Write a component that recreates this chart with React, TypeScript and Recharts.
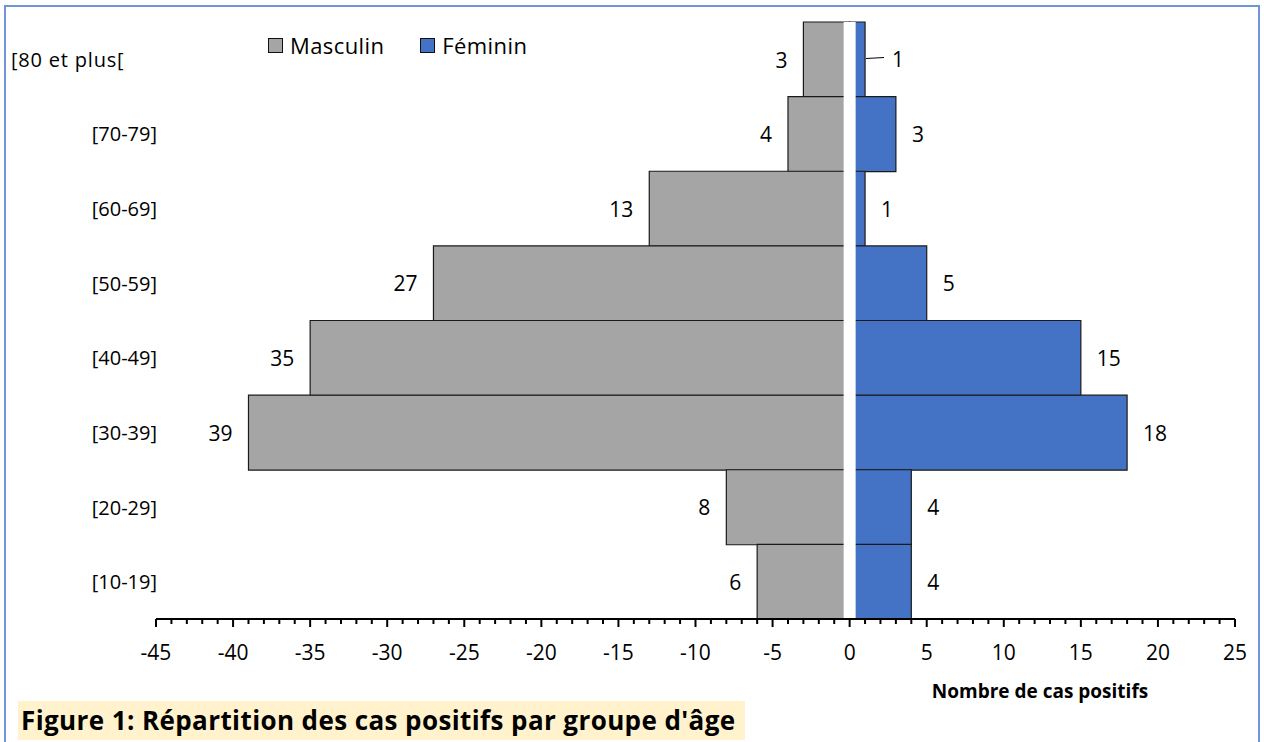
import { Bar, BarChart, ReferenceLine, XAxis, YAxis, LabelList } from "recharts";

const ageGroups = ["[80 et plus[", "[70-79]", "[60-69]", "[50-59]", "[40-49]", "[30-39]", "[20-29]", "[10-19]"];
const maleCounts = [3, 4, 13, 27, 35, 39, 8, 6];
const femaleCounts = [1, 3, 1, 5, 15, 18, 4, 4];
const majorTicks = [-45, -40, -35, -30, -25, -20, -15, -10, -5, 0, 5, 10, 15, 20, 25];
const seriesNames = ["Masculin", "Féminin"];

// minor tick marks every unit between the labelled ones
const allTicks: number[] = [];
for (let t = majorTicks[0]; t <= majorTicks[majorTicks.length - 1]; t++) allTicks.push(t);

const data = ageGroups.map((group, i) => ({
  group,
  male: -maleCounts[i],
  female: femaleCounts[i],
}));

const FONT = "'Open Sans', sans-serif";
const GREY = "#a5a5a5";
const BLUE = "#4472c4";

function XTick(props: any) {
  const { x, y, payload } = props;
  const major = payload.value % 5 === 0;
  return (
    <g>
      <line x1={x} x2={x} y1={y} y2={y + (major ? 8 : 5)} stroke="#000" strokeWidth={2} />
      {major && (
        <text x={x} y={y + 33} textAnchor="middle" dominantBaseline="central" fontSize={21} fill="#000" fontFamily={FONT}>
          {payload.value}
        </text>
      )}
    </g>
  );
}

function YTick(props: any) {
  const { x, y, payload, index } = props;
  const first = index === 0;
  return (
    <text
      x={first ? 11 : x + 1}
      y={y}
      textAnchor={first ? "start" : "end"}
      dominantBaseline="central"
      fontSize={20}
      letterSpacing={first ? 0.8 : 0}
      fill="#000"
      fontFamily={FONT}
    >
      {payload.value}
    </text>
  );
}

function MaleLabel(props: any) {
  const { x, y, width, height, value } = props;
  const left = Math.min(x, x + width);
  return (
    <text x={left - 16} y={y + height / 2} textAnchor="end" dominantBaseline="central" fontSize={21} fill="#000" fontFamily={FONT}>
      {Math.abs(value)}
    </text>
  );
}

function FemaleLabel(props: any) {
  const { x, y, width, height, value, index } = props;
  const right = Math.max(x, x + width);
  const cy = y + height / 2;
  if (index === 0) {
    return (
      <g>
        <line x1={right + 1} y1={cy - 1} x2={right + 19} y2={cy - 2} stroke="#000" strokeWidth={1} />
        <text x={right + 27} y={cy - 1} dominantBaseline="central" fontSize={21} fill="#000" fontFamily={FONT}>
          {value}
        </text>
      </g>
    );
  }
  return (
    <text x={right + 16} y={cy} dominantBaseline="central" fontSize={21} fill="#000" fontFamily={FONT}>
      {value}
    </text>
  );
}

function ChartLegend() {
  const colors = [GREY, BLUE];
  return (
    <div style={{ position: "absolute", left: 268, top: 30, display: "flex", gap: 36, fontSize: 22, letterSpacing: 0.4, color: "#000", lineHeight: "30px" }}>
      {seriesNames.map((name, i) => (
        <div key={name} style={{ display: "flex", alignItems: "center", gap: 7 }}>
          <span style={{ width: 15, height: 15, background: colors[i], border: "1.5px solid #111", boxSizing: "border-box", display: "inline-block" }} />
          <span>{name}</span>
        </div>
      ))}
    </div>
  );
}

export default function App() {
  return (
    <div style={{ position: "absolute", left: 0, top: 0, width: 1264, height: 742, background: "#fff", overflow: "hidden", fontFamily: FONT }}>
      <div style={{ position: "absolute", left: 4, top: 5, width: 1256, height: 760, border: "2px solid #6f94d8", boxSizing: "border-box" }} />
      <BarChart
        width={1264}
        height={742}
        data={data}
        layout="vertical"
        stackOffset="sign"
        barCategoryGap={0}
        margin={{ top: 22, right: 29, bottom: 83, left: 0 }}
      >
        <XAxis
          type="number"
          domain={[-45, 25]}
          ticks={allTicks}
          interval={0}
          tickSize={0}
          tickMargin={0}
          tickLine={false}
          axisLine={{ stroke: "#000", strokeWidth: 2 }}
          tick={<XTick />}
          height={40}
          allowDataOverflow
        />
        <YAxis
          type="category"
          dataKey="group"
          width={156}
          axisLine={false}
          tickLine={false}
          tickSize={0}
          tickMargin={0}
          interval={0}
          tick={<YTick />}
        />
        <Bar dataKey="male" name={seriesNames[0]} stackId="a" fill={GREY} stroke="#1a1a1a" strokeWidth={1.2} isAnimationActive={false}>
          <LabelList dataKey="male" content={<MaleLabel />} />
        </Bar>
        <Bar dataKey="female" name={seriesNames[1]} stackId="a" fill={BLUE} stroke="#1a1a1a" strokeWidth={1.2} isAnimationActive={false}>
          <LabelList dataKey="female" content={<FemaleLabel />} />
        </Bar>
        <ReferenceLine x={0} stroke="#fff" strokeWidth={12} />
      </BarChart>
      <ChartLegend />
      <div style={{ position: "absolute", left: 18, top: 701, width: 727, height: 39, background: "#fff2cc" }} />
      <div style={{ position: "absolute", left: 21, top: 701, height: 39, lineHeight: "39px", fontWeight: 700, fontSize: 26, letterSpacing: 0.4, color: "#000", whiteSpace: "nowrap" }}>
        Figure 1: Répartition des cas positifs par groupe d'âge
      </div>
      <div style={{ position: "absolute", left: 900, top: 678, width: 280, lineHeight: "26px", textAlign: "center", fontWeight: 700, fontSize: 19, color: "#000", whiteSpace: "nowrap" }}>
        Nombre de cas positifs
      </div>
    </div>
  );
}
